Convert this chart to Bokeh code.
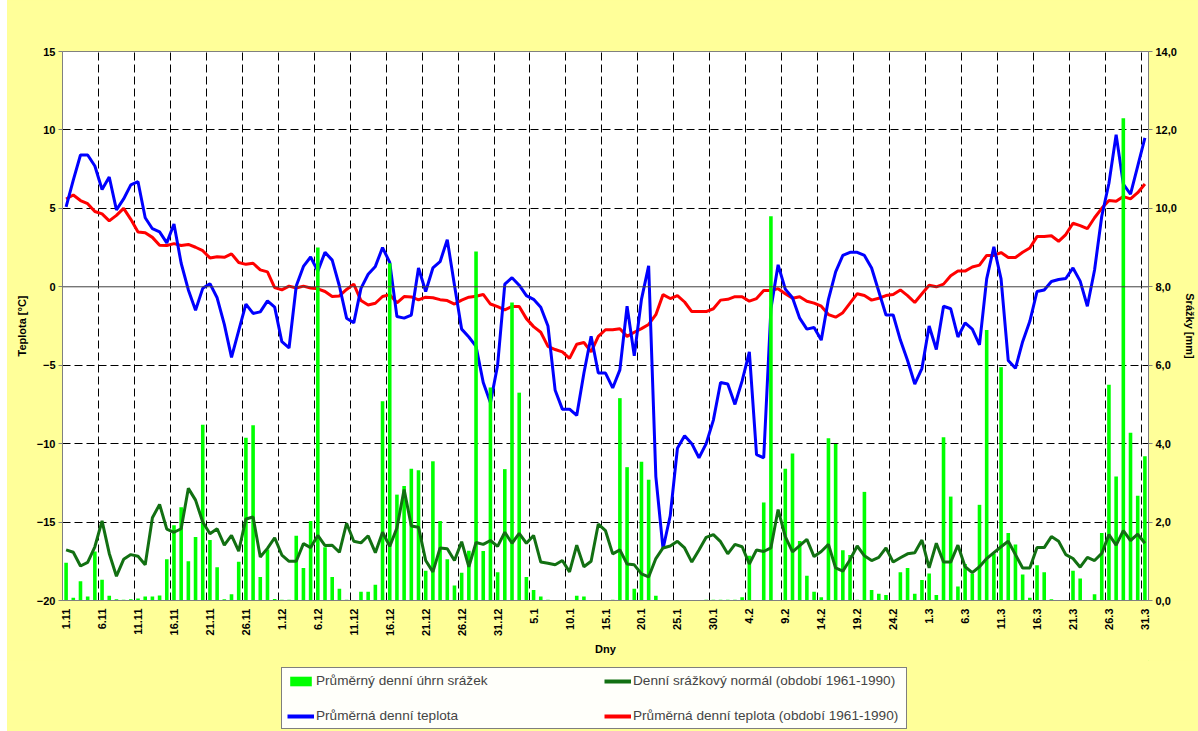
import math
from bokeh.plotting import figure
from bokeh.models import (Range1d, LinearAxis, FixedTicker, Span, Legend, LegendItem, Div)
from bokeh.layouts import row, column
from bokeh.embed import file_html
from bokeh.resources import INLINE

# x-axis labels (every 5th day, 1.11 .. 31.3)
tick_labels = ["1.11", "6.11", "11.11", "16.11", "21.11", "26.11", "1.12", "6.12", "11.12",
               "16.12", "21.12", "26.12", "31.12", "5.1", "10.1", "15.1", "20.1", "25.1",
               "30.1", "4.2", "9.2", "14.2", "19.2", "24.2", "1.3", "6.3", "11.3", "16.3",
               "21.3", "26.3", "31.3"]

# Průměrná denní teplota [°C]
temp = [5.1, 6.8, 8.4, 8.4, 7.7, 6.2, 7.0, 4.9, 5.6, 6.5,
        6.7, 4.4, 3.7, 3.5, 2.8, 4.0, 1.5, -0.2, -1.5, -0.1,
        0.2, -0.7, -2.4, -4.5, -2.8, -1.1, -1.7, -1.6, -0.9, -1.3,
        -3.5, -3.9, 0.05, 1.3, 1.9, 1.0, 2.2, 1.7, 0.05, -2.0,
        -2.3, -0.1, 0.8, 1.3, 2.5, 1.55, -1.9, -2.0, -1.8, 1.2,
        -0.3, 1.2, 1.6, 3.0, 0.1, -2.7, -3.2, -3.8, -6.1, -7.4,
        -5.0, 0.17, 0.58, 0.1, -0.56, -0.8, -1.3, -2.5, -6.6, -7.8,
        -7.8, -8.2, -5.5, -3.15, -5.5, -5.5, -6.45, -5.3, -1.24, -4.4,
        -0.8, 1.33, -12.1, -16.7, -14.6, -10.3, -9.5, -10.0, -10.9, -10.0,
        -8.5, -6.1, -6.2, -7.5, -6.0, -4.15, -10.7, -10.9, -1.4, 1.4,
        -0.15, -0.7, -2.0, -2.7, -2.6, -3.4, -0.8, 0.95, 2.0, 2.2,
        2.2, 2.0, 1.2, -0.3, -1.8, -1.8, -3.4, -4.7, -6.2, -5.2,
        -2.5, -4.0, -1.24, -1.4, -3.2, -2.3, -2.7, -3.7, 0.5, 2.55,
        0.5, -4.7, -5.2, -3.5, -2.2, -0.3, -0.2, 0.34, 0.46, 0.53,
        1.2, 0.36, -1.24, 1.07, 4.5, 6.6, 9.7, 6.55, 5.9, 7.7,
        9.5]

# Průměrná denní teplota (období 1961-1990) [°C]
temp_norm = [5.6, 5.85, 5.5, 5.3, 4.8, 4.65, 4.2, 4.55, 5.0, 4.3,
             3.5, 3.45, 3.15, 2.65, 2.63, 2.75, 2.63, 2.7, 2.52, 2.3,
             1.84, 1.92, 1.88, 2.1, 1.55, 1.43, 1.5, 1.08, 0.95, -0.05,
             -0.2, 0.04, -0.08, 0.04, -0.08, -0.13, -0.3, -0.62, -0.58, -0.17,
             0.17, -0.88, -1.16, -1.05, -0.62, -0.5, -1.02, -0.62, -0.65, -0.84,
             -0.66, -0.7, -0.82, -0.88, -1.1, -0.85, -0.66, -0.6, -0.49, -1.1,
             -1.26, -1.47, -1.25, -1.25, -2.03, -2.54, -2.9, -3.8, -4.0, -4.15,
             -4.56, -3.66, -3.55, -4.15, -3.16, -2.74, -2.74, -2.67, -3.16, -2.9,
             -2.67, -2.4, -1.78, -0.5, -0.75, -0.56, -0.97, -1.58, -1.58, -1.58,
             -1.4, -0.85, -0.8, -0.63, -0.63, -0.92, -0.75, -0.24, -0.24, -0.12,
             -0.44, -0.73, -0.63, -0.92, -1.04, -1.24, -1.77, -1.94, -1.65, -1.04,
             -0.44, -0.56, -0.85, -0.73, -0.56, -0.49, -0.2, -0.56, -1.0, -0.44,
             0.1, 0.0, 0.17, 0.7, 1.0, 1.0, 1.26, 1.38, 2.0, 2.0,
             2.18, 1.87, 1.87, 2.2, 2.47, 3.2, 3.2, 3.25, 2.9, 3.33,
             4.05, 3.9, 3.7, 4.4, 5.0, 5.5, 5.45, 5.75, 5.6, 6.0,
             6.55]

# Průměrný denní úhrn srážek [mm]
precip = [0.96, 0.07, 0.49, 0.1, 1.25, 0.53, 0.12, 0.03, 0.02, 0.03,
          0.05, 0.1, 0.1, 0.13, 1.05, 1.92, 2.38, 1.0, 1.62, 4.48,
          1.54, 0.85, 0.03, 0.16, 0.99, 4.15, 4.47, 0.6, 1.3, 0.04,
          0.02, 0.02, 1.65, 0.83, 2.03, 9.0, 1.36, 0.6, 0.3, 0.02,
          0.01, 0.22, 0.22, 0.4, 5.08, 8.6, 2.7, 2.92, 3.36, 3.32,
          0.76, 3.55, 2.03, 1.05, 0.38, 0.71, 1.27, 8.9, 1.26, 5.43,
          0.72, 3.35, 7.6, 5.3, 0.6, 0.27, 0.1, 0.02, 0.0, 0.0,
          0.0, 0.12, 0.1, 0.0, 0.0, 0.01, 0.02, 5.16, 3.4, 0.3,
          3.54, 3.08, 0.12, 0.0, 0.0, 0.0, 0.0, 0.0, 0.0, 0.02,
          0.02, 0.02, 0.02, 0.02, 0.08, 1.14, 0.0, 2.5, 9.8, 0.0,
          3.36, 3.75, 1.52, 0.63, 0.22, 0.08, 4.14, 3.99, 1.28, 1.16,
          0.02, 2.77, 0.27, 0.17, 0.14, 0.0, 0.72, 0.83, 0.17, 0.52,
          0.69, 0.14, 4.16, 2.65, 0.36, 0.93, 0.68, 2.44, 6.9, 1.2,
          5.95, 1.72, 1.43, 0.66, 0.07, 0.9, 0.72, 0.03, 0.0, 0.0,
          0.76, 0.56, 0.0, 0.16, 1.72, 5.5, 3.16, 12.3, 4.28, 2.67,
          3.68]

# Denní srážkový normál (období 1961-1990) [mm]
precip_norm = [1.29, 1.23, 0.88, 0.97, 1.37, 2.03, 1.2, 0.62, 1.05, 1.17,
               1.13, 0.91, 2.11, 2.45, 1.82, 1.74, 1.83, 2.86, 2.56, 2.0,
               1.7, 1.83, 1.41, 1.66, 1.26, 2.08, 2.13, 1.11, 1.33, 1.6,
               1.16, 1.0, 1.0, 1.45, 1.35, 1.66, 1.4, 1.41, 1.23, 1.97,
               1.51, 1.47, 1.65, 1.22, 1.74, 1.38, 1.85, 2.83, 1.9, 1.87,
               1.02, 0.73, 1.34, 1.32, 1.02, 1.5, 0.86, 1.48, 1.43, 1.53,
               1.38, 1.74, 1.46, 1.71, 1.46, 1.66, 0.98, 0.95, 0.91, 1.02,
               0.73, 1.41, 0.86, 1.0, 1.95, 1.78, 1.19, 1.29, 0.93, 0.91,
               0.68, 0.6, 1.07, 1.34, 1.39, 1.51, 1.34, 0.98, 1.29, 1.61,
               1.68, 1.5, 1.19, 1.43, 1.37, 0.93, 1.29, 1.25, 1.34, 2.32,
               1.63, 1.24, 1.4, 1.56, 1.12, 1.25, 1.43, 0.83, 0.75, 1.04,
               1.39, 1.14, 1.02, 1.1, 1.34, 0.98, 1.09, 1.19, 1.22, 1.54,
               0.83, 1.46, 0.98, 0.98, 1.41, 0.86, 0.71, 0.86, 1.07, 1.22,
               1.37, 1.51, 1.17, 0.83, 0.83, 1.35, 1.35, 1.63, 1.51, 1.17,
               1.07, 0.85, 1.1, 1.02, 1.2, 1.68, 1.41, 1.78, 1.53, 1.69,
               1.46]

series_labels = ["Průměrný denní úhrn srážek",
                 "Denní srážkový normál (období 1961-1990)",
                 "Průměrná denní teplota",
                 "Průměrná denní teplota (období 1961-1990)"]

days = list(range(len(temp)))
FONT = "Liberation Sans"
BG = "#FFFF99"
C_BAR, C_NP, C_T, C_NT = "#00FF00", "#127012", "#0000FF", "#FF0000"

p = figure(width=1191, height=660, output_backend="svg", toolbar_location=None,
           x_range=Range1d(-0.5, len(days) - 0.5), y_range=Range1d(-20, 15),
           background_fill_color="white", border_fill_color=BG,
           outline_line_color="#808080", outline_line_width=1,
           min_border_left=55, min_border_right=49, min_border_top=51,
           min_border_bottom=60)
p.extra_y_ranges = {"precip": Range1d(0, 14)}

# grids
p.ygrid.ticker = FixedTicker(ticks=[-15, -10, -5, 5, 10])
p.ygrid.grid_line_color = "black"
p.ygrid.grid_line_dash = "8 4"
p.ygrid.grid_line_width = 1
p.xgrid.ticker = FixedTicker(ticks=[4.5 + 5 * k for k in range(30)])
p.xgrid.grid_line_color = "black"
p.xgrid.grid_line_dash = "8 4"
p.xgrid.grid_line_width = 1
p.add_layout(Span(location=0, dimension="width", line_color="#404040", line_width=1))

# left axis
ya = p.yaxis[0]
ya.ticker = FixedTicker(ticks=list(range(-20, 16, 5)))
ya.axis_label = "Teplota [°C]"
# right axis
ra = LinearAxis(y_range_name="precip", ticker=FixedTicker(ticks=list(range(0, 15, 2))),
                major_label_overrides={v: f"{v},0" for v in range(0, 15, 2)},
                axis_label="Srážky [mm]")
p.add_layout(ra, "right")
for ax in (ya, ra):
    ax.axis_line_color = "#808080"
    ax.major_tick_line_color = "#808080"
    ax.major_tick_out = 4
    ax.major_tick_in = 0
    ax.minor_tick_out = 0
    ax.minor_tick_in = 0
    ax.major_label_standoff = 3
    ax.axis_label_standoff = 6
    ax.major_label_text_font = FONT
    ax.major_label_text_font_size = "11px"
    ax.major_label_text_font_style = "bold"
    ax.major_label_text_color = "black"
    ax.axis_label_text_font = FONT
    ax.axis_label_text_font_size = "11px"
    ax.axis_label_text_font_style = "bold"
    ax.axis_label_text_color = "black"
ra.axis_label_standoff = 4

# bottom axis
xa = p.xaxis[0]
xa.ticker = FixedTicker(ticks=[5 * k for k in range(len(tick_labels))])
xa.major_label_overrides = {5 * k: lab for k, lab in enumerate(tick_labels)}
xa.major_label_orientation = math.pi / 2
xa.axis_line_color = "#808080"
xa.major_tick_out = 0
xa.major_tick_in = 0
xa.minor_tick_out = 0
xa.minor_tick_in = 0
xa.major_label_standoff = 8
xa.major_label_text_font = FONT
xa.major_label_text_font_size = "11px"
xa.major_label_text_font_style = "bold"
xa.major_label_text_color = "black"
xa.axis_label = "Dny"
xa.axis_label_standoff = 4
xa.axis_label_text_font = FONT
xa.axis_label_text_font_size = "11px"
xa.axis_label_text_font_style = "bold"
xa.axis_label_text_color = "black"

# series (temperature on primary axis, precipitation on secondary axis drawn on top)
p.line(days, temp_norm, line_color=C_NT, line_width=3)
p.line(days, temp, line_color=C_T, line_width=3)
p.vbar(x=days, top=precip, bottom=0, width=0.5, fill_color=C_BAR,
       line_color=None, y_range_name="precip")
p.line(days, precip_norm, line_color=C_NP, line_width=3, y_range_name="precip")

# legend strip below the chart (its renderers hold data outside the visible range,
# so only the legend glyphs show)
lf = figure(width=1191, height=71, output_backend="svg", toolbar_location=None,
            x_axis_type=None, y_axis_type=None, x_range=Range1d(0, 1), y_range=Range1d(0, 1),
            background_fill_color=BG, border_fill_color=BG, outline_line_color=None,
            min_border=0)
lf.grid.visible = False
g_bar = lf.vbar(x=[5], top=[6], bottom=5, width=0.5, fill_color=C_BAR, line_color=None)
g_np = lf.line([5, 6], [5, 6], line_color=C_NP, line_width=4)
g_t = lf.line([5, 6], [5, 6], line_color=C_T, line_width=4)
g_nt = lf.line([5, 6], [5, 6], line_color=C_NT, line_width=4)

legend = Legend(items=[
    LegendItem(label=series_labels[0], renderers=[g_bar]),
    LegendItem(label=series_labels[2], renderers=[g_t]),
    LegendItem(label=series_labels[1], renderers=[g_np]),
    LegendItem(label=series_labels[3], renderers=[g_nt]),
], ncols=2, location=(219, 2), border_line_color="black", border_line_width=1,
    background_fill_color="white", label_text_font=FONT, label_text_font_size="13.6px",
    glyph_width=27, glyph_height=12, label_height=14, label_width=268,
    label_standoff=2, spacing=20, padding=5, margin=0)
lf.add_layout(legend, "center")

strip = Div(width=7, height=731, margin=0, styles={"background-color": "white"})
col = column(p, lf, spacing=0, margin=0, styles={"background-color": BG})
layout = row(strip, col, spacing=0, margin=0)
html = file_html(layout, INLINE)
html = html.replace("<body>", '<body style="background-color: #FFFF99; margin: 0;">', 1)
open("out.html", "w").write(html)
